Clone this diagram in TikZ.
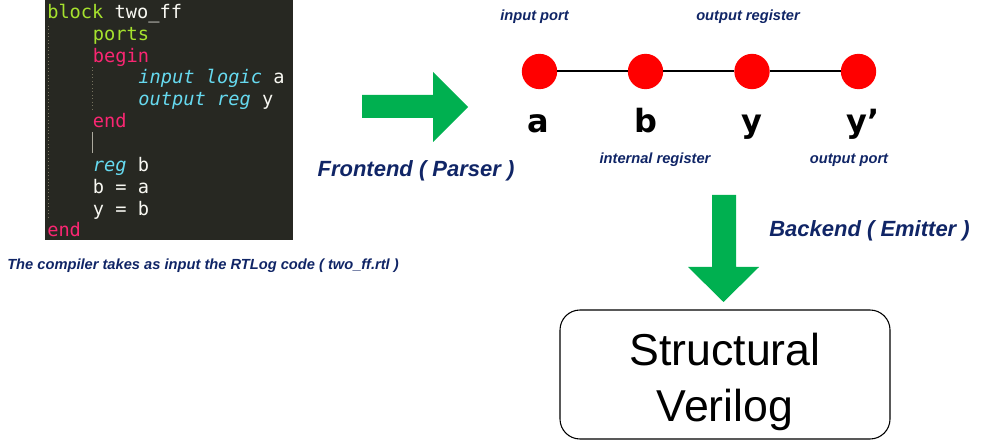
\documentclass[tikz,border=0pt]{standalone}
\usepackage{fontspec}
\setmainfont{Liberation Sans}
\newfontfamily\codefont{DejaVu Sans Mono}
\newfontfamily\letterfont{DejaVu Sans}
\definecolor{codebg}{HTML}{272822}
\definecolor{codefg}{HTML}{F8F8F2}
\definecolor{kwgreen}{HTML}{A6E22E}
\definecolor{kwpink}{HTML}{F92672}
\definecolor{kwcyan}{HTML}{66D9EF}
\definecolor{guide}{HTML}{75715E}
\definecolor{navy}{RGB}{16,37,102}
\definecolor{arrowgreen}{HTML}{00B050}
\definecolor{dotred}{HTML}{FF0000}
\newcommand{\kg}[1]{\textcolor{kwgreen}{#1}}
\newcommand{\kp}[1]{\textcolor{kwpink}{#1}}
\newcommand{\kc}[1]{\textcolor{kwcyan}{\itshape #1}}
\tikzset{
  codeline/.style={anchor=base west, inner sep=0pt, text=codefg,
    font=\codefont\fontsize{14}{16}\selectfont},
  navylabel/.style={inner sep=0pt, text=navy, font=\bfseries\itshape\fontsize{11}{13}\selectfont},
  biglabel/.style={inner sep=0pt, text=navy, font=\bfseries\itshape\fontsize{16.5}{19}\selectfont},
  vertex/.style={circle, fill=dotred, minimum size=26.5pt, inner sep=0pt},
  letter/.style={anchor=base, inner sep=0pt, font=\letterfont\bfseries\fontsize{24}{28}\selectfont},
  fatarrow/.style={fill=arrowgreen, draw=none},
  outbox/.style={draw=black, line width=0.8pt, rounded corners=15pt},
  boxtext/.style={anchor=base, inner sep=0pt, font=\fontsize{33.5}{40}\selectfont},
}
\begin{document}
\begin{tikzpicture}[x=0.75pt,y=-0.75pt]
\useasboundingbox (0,0) rectangle (994,441);
% code panel
\fill[codebg] (45,0) rectangle (293,240);
\draw[guide, dotted, line width=0.6pt] (48,26) -- (48,218);
\draw[guide, dotted, line width=0.6pt] (92,67) -- (92,110);
\draw[guide!60!white, line width=0.6pt] (92,132) -- (92,153);
\node[codeline] (l1) at (47,18.5) {\kg{block} two\_ff};
\node[codeline] (l2) at (92.6,40.3) {\kg{ports}};
\node[codeline] (l3) at (92.6,62.2) {\kp{begin}};
\node[codeline] (l4) at (138.2,84.0) {\kc{input logic} a};
\node[codeline] (l5) at (138.2,105.9) {\kc{output reg} y};
\node[codeline] (l6) at (92.6,127.7) {\kp{end}};
\node[codeline] (l8) at (92.6,171.4) {\kc{reg} b};
\node[codeline] (l9) at (92.6,193.2) {b = a};
\node[codeline] (l10) at (92.6,215.1) {y = b};
\node[codeline] (l11) at (47,236.9) {\kp{end}};
% caption
\node[navylabel, anchor=west] (cap) at (7,266) {The compiler takes as input the RTLog code ( two\_ff.rtl )};
% frontend arrow
\fill[fatarrow] (362,95) -- (433,95) -- (433,72) -- (468,107) -- (433,142) -- (433,118) -- (362,118) -- cycle;
\node[biglabel] (fe) at (416,171) {Frontend ( Parser )};
% graph
\node[vertex] (va) at (539.5,71.5) {};
\node[vertex] (vb) at (645.5,71.5) {};
\node[vertex] (vy) at (752,71.5) {};
\node[vertex] (vyp) at (858.5,71.5) {};
\draw[line width=1.5pt] (va) -- (vb) -- (vy) -- (vyp);
\node[letter] (la) at (538,133) {a};
\node[letter] (lb) at (645.5,133) {b};
\node[letter] (ly) at (752,133) {y};
\node[letter] (lyp) at (863,133) {y’};
\node[navylabel] (tin) at (534.5,17) {input port};
\node[navylabel] (tor) at (748,17) {output register};
\node[navylabel] (tir) at (655,160) {internal register};
\node[navylabel] (top) at (849,160) {output port};
% backend arrow
\fill[fatarrow] (712,195) -- (736,195) -- (736,267) -- (759,267) -- (723.5,302) -- (688,267) -- (712,267) -- cycle;
\node[biglabel] (be) at (869.5,231) {Backend ( Emitter )};
% output box
\draw[outbox] (560,310) rectangle (890,439);
\node[boxtext] (s1) at (725,365) {Structural};
\node[boxtext] (s2) at (725,421) {Verilog};
\end{tikzpicture}
\end{document}
